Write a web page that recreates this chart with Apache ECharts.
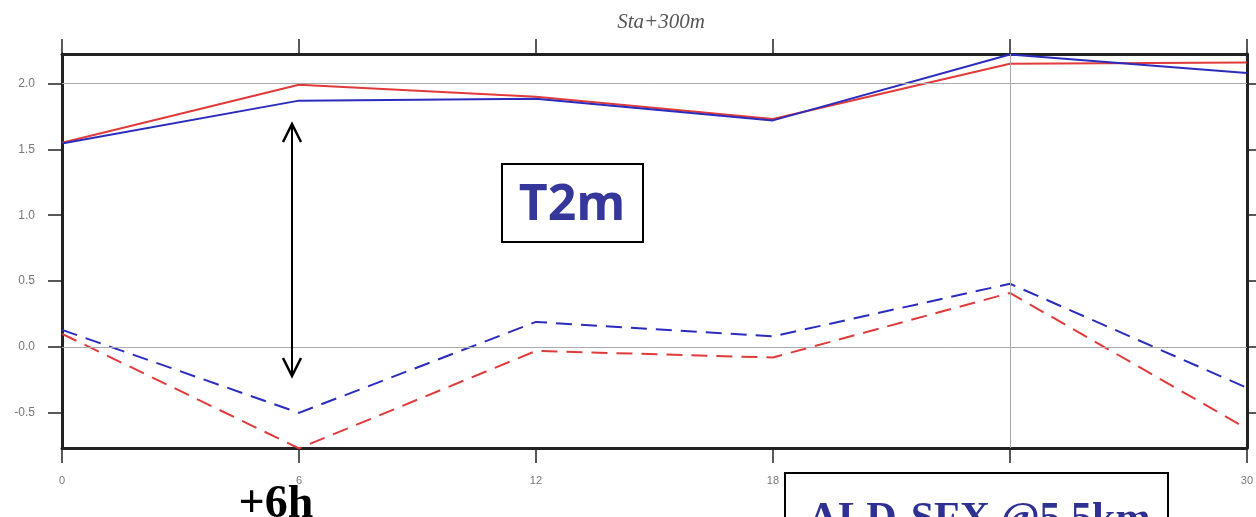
<!DOCTYPE html>
<html>
<head>
<meta charset="utf-8">
<script src="https://cdn.jsdelivr.net/npm/echarts@6/dist/echarts.min.js"></script>
<style>html,body{margin:0;padding:0;background:#fff}#c{width:1256px;height:517px}</style>
</head>
<body>
<div id="c"></div>
<script>
const hours = [0, 6, 12, 18, 24, 30];
const redSolid = [1.55, 1.99, 1.90, 1.73, 2.15, 2.16];
const blueSolid = [1.545, 1.87, 1.885, 1.72, 2.22, 2.08];
const blueDashed = [0.13, -0.50, 0.19, 0.08, 0.48, -0.31];
const redDashed = [0.10, -0.77, -0.03, -0.08, 0.41, -0.62];
const yTicks = [-0.5, 0, 0.5, 1.0, 1.5, 2.0];
const xTicks = [0, 6, 12, 18, 24, 30];
const titleText = 'Sta+300m';
const boxLabel = 'T2m';
const leadLabel = '+6h';
const expLabel = 'ALD-SFX @5.5km';

const pairs = arr => hours.map((h, i) => [h, arr[i]]);
const frame = '#222';
const RED = '#e03a3a', BLUE = '#2b2bbd';

const chart = echarts.init(document.getElementById('c'), null, {renderer: 'canvas'});
const xBase = {
  type: 'value', min: 0, max: 30,
  axisLine: {show: true, onZero: false, lineStyle: {color: frame, width: 3}},
  axisTick: {show: true, length: 15, lineStyle: {color: frame, width: 1.5}, customValues: xTicks},
  splitLine: {show: false}
};
const yBase = {
  type: 'value', min: -0.767, max: 2.224,
  axisLine: {show: true, onZero: false, lineStyle: {color: frame, width: 3}},
  axisTick: {show: true, length: 14, lineStyle: {color: frame, width: 1.5}, customValues: yTicks},
  splitLine: {show: false}
};
chart.setOption({
  animation: false,
  backgroundColor: '#fff',
  title: {
    text: titleText, left: 656, top: 7, textAlign: 'center',
    textStyle: {fontFamily: 'Liberation Serif', fontStyle: 'italic', fontWeight: 'normal', fontSize: 21, color: '#555'}
  },
  grid: {left: 62, right: 7, top: 54, bottom: 69},
  xAxis: [
    Object.assign({}, xBase, {position: 'bottom',
      axisLabel: {show: true, margin: 27, fontSize: 11, color: '#777', fontFamily: 'Liberation Sans', customValues: xTicks}}),
    Object.assign({}, xBase, {position: 'top', axisLabel: {show: false}})
  ],
  yAxis: [
    Object.assign({}, yBase, {position: 'left',
      axisLabel: {show: true, margin: 27, fontSize: 12, color: '#777', fontFamily: 'Liberation Sans',
        customValues: yTicks, formatter: v => v.toFixed(1)}}),
    Object.assign({}, yBase, {position: 'right', axisLabel: {show: false}})
  ],
  series: [
    {type: 'line', data: pairs(redSolid), symbol: 'none', clip: false,
      lineStyle: {color: RED, width: 2},
      markLine: {silent: true, symbol: 'none', label: {show: false},
        lineStyle: {color: '#aaa', width: 1, type: 'solid'},
        data: [{yAxis: 2.0}, {yAxis: 0.0}, {xAxis: 24}]}},
    {type: 'line', data: pairs(blueSolid), symbol: 'none', clip: false, lineStyle: {color: BLUE, width: 2}},
    {type: 'line', data: pairs(blueDashed), symbol: 'none', clip: false, lineStyle: {color: BLUE, width: 2, type: [16, 9]}},
    {type: 'line', data: pairs(redDashed), symbol: 'none', clip: false, lineStyle: {color: RED, width: 2, type: [16, 9]}}
  ],
  graphic: [
    {type: 'rect', z: 100, shape: {x: 502, y: 164, width: 141, height: 78},
      style: {fill: '#fff', stroke: '#000', lineWidth: 2}},
    {type: 'text', z: 101, x: 572, y: 206,
      style: {text: boxLabel, fontFamily: 'Open Sans', fontWeight: 'bold', fontSize: 50, fill: '#35379a', align: 'center', verticalAlign: 'middle'}},
    {type: 'polyline', z: 100, shape: {points: [[292, 126], [292, 374]]}, style: {stroke: '#000', lineWidth: 2}},
    {type: 'polyline', z: 100, shape: {points: [[283, 142], [292, 124], [301, 142]]}, style: {stroke: '#000', lineWidth: 2.5, fill: null}},
    {type: 'polyline', z: 100, shape: {points: [[283, 358], [292, 376], [301, 358]]}, style: {stroke: '#000', lineWidth: 2.5, fill: null}},
    {type: 'text', z: 101, x: 276, y: 505,
      style: {text: leadLabel, fontFamily: 'Liberation Serif', fontWeight: 'bold', fontSize: 46, fill: '#000', align: 'center', verticalAlign: 'middle'}},
    {type: 'rect', z: 100, shape: {x: 785, y: 473, width: 383, height: 60},
      style: {fill: '#fff', stroke: '#000', lineWidth: 2}},
    {type: 'text', z: 101, x: 808, y: 520,
      style: {text: expLabel, fontFamily: 'Liberation Serif', fontWeight: 'bold', fontSize: 42, fill: '#2e3192', align: 'left', verticalAlign: 'middle'}}
  ]
});
</script>
</body>
</html>
